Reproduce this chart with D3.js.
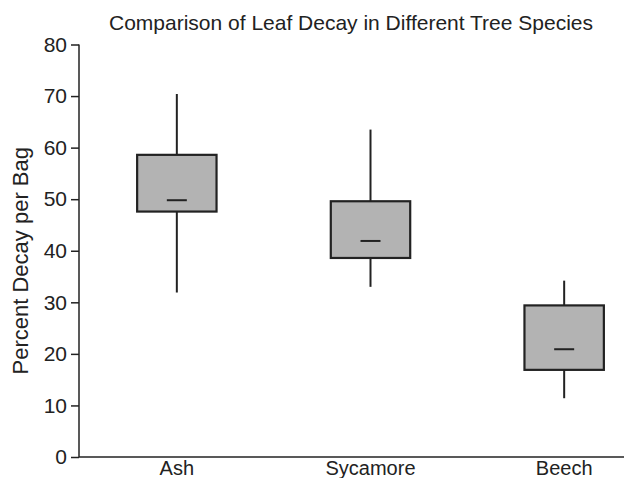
<!DOCTYPE html>
<html><head><meta charset="utf-8">
<script src="https://cdn.jsdelivr.net/npm/d3@7"></script>
<style>body{margin:0;background:#fff;} text{font-family:"Liberation Sans",Arial,sans-serif;fill:#222;}</style>
</head><body>
<svg id="c" width="624" height="478"></svg>
<script>
const categories = ["Ash", "Sycamore", "Beech"];
const whiskerLow = [31.9, 33.0, 11.4];
const q1 = [47.6, 38.6, 16.9];
const median = [49.8, 41.9, 20.9];
const q3 = [58.6, 49.6, 29.4];
const whiskerHigh = [70.4, 63.5, 34.2];
const yTicks = [0, 10, 20, 30, 40, 50, 60, 70, 80];

const svg = d3.select("#c");
const x = d3.scaleBand().domain(categories).range([80, 661]);
const y = d3.scaleLinear().domain([0, 80]).range([457, 44.5]);
const stroke = "#222";

// y axis
const ya = svg.append("g").attr("transform", "translate(79,0)")
  .call(d3.axisLeft(y).tickValues(yTicks).tickSize(8).tickPadding(4));
ya.select(".domain").remove();
ya.selectAll(".tick line").attr("stroke", stroke).attr("stroke-width", 1.5);
ya.selectAll(".tick text").style("font-size", "21px").attr("fill", "#222");
svg.append("line").attr("x1", 79).attr("x2", 79).attr("y1", y(80)).attr("y2", y(0))
  .attr("stroke", stroke).attr("stroke-width", 1.5);
// x axis
svg.append("line").attr("x1", 79).attr("x2", 624).attr("y1", y(0)).attr("y2", y(0))
  .attr("stroke", stroke).attr("stroke-width", 1.5);
const xa = svg.append("g").attr("transform", `translate(0,${y(0)})`)
  .call(d3.axisBottom(x).tickSize(0).tickPadding(4));
xa.select(".domain").remove();
xa.selectAll(".tick text").style("font-size", "20px").attr("fill", "#222");

const data = categories.map((c, i) => ({c, lo: whiskerLow[i], q1: q1[i], med: median[i], q3: q3[i], hi: whiskerHigh[i]}));
const bw = x.bandwidth() * 0.41;
const g = svg.append("g");
data.forEach(d => {
  const cx = x(d.c) + x.bandwidth() / 2;
  g.append("line").attr("x1", cx).attr("x2", cx).attr("y1", y(d.hi)).attr("y2", y(d.q3))
    .attr("stroke", stroke).attr("stroke-width", 2);
  g.append("line").attr("x1", cx).attr("x2", cx).attr("y1", y(d.q1)).attr("y2", y(d.lo))
    .attr("stroke", stroke).attr("stroke-width", 2);
  g.append("rect").attr("x", cx - bw / 2).attr("width", bw)
    .attr("y", y(d.q3)).attr("height", y(d.q1) - y(d.q3))
    .attr("fill", "#b3b3b3").attr("stroke", stroke).attr("stroke-width", 2.2);
  g.append("line").attr("x1", cx - 10).attr("x2", cx + 10).attr("y1", y(d.med)).attr("y2", y(d.med))
    .attr("stroke", stroke).attr("stroke-width", 2);
});

svg.append("text").attr("x", 351).attr("y", 30).attr("text-anchor", "middle")
  .style("font-size", "21px").text("Comparison of Leaf Decay in Different Tree Species");
svg.append("text").attr("transform", `translate(28,${(y(0) + y(80)) / 2 + 10}) rotate(-90)`)
  .attr("text-anchor", "middle").style("font-size", "22px").text("Percent Decay per Bag");
</script>
</body></html>
